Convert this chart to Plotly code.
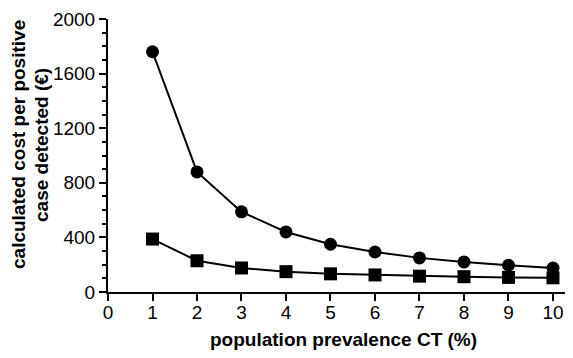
import plotly.graph_objects as go

prevalence = [1, 2, 3, 4, 5, 6, 7, 8, 9, 10]
cost_circle = [1760, 880, 587, 440, 350, 293, 250, 220, 196, 176]
cost_square = [388, 229, 176, 149, 133, 125, 116, 112, 107, 104]
x_ticks = [0, 1, 2, 3, 4, 5, 6, 7, 8, 9, 10]
y_ticks = [0, 400, 800, 1200, 1600, 2000]

fig = go.Figure()
fig.add_trace(go.Scatter(x=prevalence, y=cost_circle, mode="lines+markers",
                         line=dict(color="black", width=2),
                         marker=dict(symbol="circle", size=13, color="black"),
                         cliponaxis=False, showlegend=False))
fig.add_trace(go.Scatter(x=prevalence, y=cost_square, mode="lines+markers",
                         line=dict(color="black", width=2),
                         marker=dict(symbol="square", size=13, color="black"),
                         cliponaxis=False, showlegend=False))

font = "Liberation Sans, Arial, Helvetica, sans-serif"
OFF = 8  # page body margin
W, H = 573 - OFF, 358 - OFF
L, R, T, B = 108 - OFF, 0, 19 - OFF, 358 - 292
pw, ph = W - L - R, H - T - B

fig.update_layout(
    width=W, height=H,
    margin=dict(l=L, r=R, t=T, b=B),
    paper_bgcolor="white", plot_bgcolor="white",
    font=dict(family=font, color="black", size=19),
    xaxis=dict(range=[0, 10.45], tickmode="array", tickvals=x_ticks,
               ticks="outside", ticklen=7, tickwidth=1.5, tickcolor="black",
               showline=True, linecolor="black", linewidth=2,
               showgrid=False, zeroline=False, automargin=False,
               ticklabelstandoff=-5,
               tickfont=dict(size=19, family=font)),
    yaxis=dict(range=[0, 2000], tickmode="array", tickvals=y_ticks,
               ticks="outside", ticklen=7, tickwidth=1.5, tickcolor="black",
               showline=True, linecolor="black", linewidth=2,
               showgrid=False, zeroline=False, automargin=False,
               minor=dict(dtick=100, ticks="outside", ticklen=4, tickwidth=1.5, tickcolor="black"),
               tickfont=dict(size=19, family=font)),
)

def px_x(px):
    return (px - OFF - L) / pw

def px_y(py):
    return (H - B - (py - OFF)) / ph

fig.add_annotation(text="<b>population prevalence CT (%)</b>", xref="paper", yref="paper",
                   x=px_x(343), y=px_y(339), xanchor="center", yanchor="middle",
                   showarrow=False, font=dict(size=19, family=font))
fig.add_annotation(text="<b>calculated cost per positive</b>", xref="paper", yref="paper",
                   x=px_x(18), y=px_y(145), xanchor="center", yanchor="middle",
                   textangle=-90, showarrow=False, font=dict(size=19, family=font))
fig.add_annotation(text="<b>case detected (€)</b>", xref="paper", yref="paper",
                   x=px_x(41), y=px_y(145), xanchor="center", yanchor="middle",
                   textangle=-90, showarrow=False, font=dict(size=19, family=font))

fig.write_html("out.html")
